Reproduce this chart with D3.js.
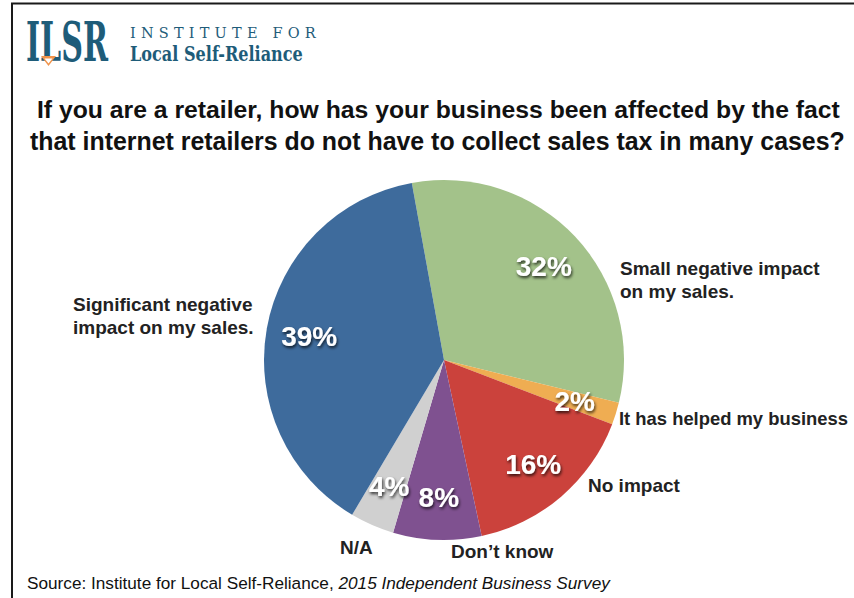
<!DOCTYPE html>
<html>
<head>
<meta charset="utf-8">
<script src="https://cdn.jsdelivr.net/npm/d3@7/dist/d3.min.js"></script>
<style>
  html, body { margin: 0; padding: 0; background: #fff; }
  svg { display: block; }
</style>
</head>
<body>
<svg id="chart" width="854" height="598"></svg>
<script>
// Survey responses (percent of retailers)
const categories = [
  "Small negative impact on my sales.",
  "It has helped my business",
  "No impact",
  "Don\u2019t know",
  "N/A",
  "Significant negative impact on my sales."
];
const values = [32, 2, 16, 8, 4, 39];
const colors = ["#a3c28a", "#efad52", "#cb423c", "#7f5190", "#d0d0d0", "#3e6b9c"];

const titleLines = [
  "If you are a retailer, how has your business been affected by the fact",
  "that internet retailers do not have to collect sales tax in many cases?"
];

const W = 854, H = 598;
const svg = d3.select("#chart");

// shrink a text's font size until it fits the given width
function fitWidth(sel, width) {
  const size = parseFloat(sel.attr("font-size"));
  const w = sel.node().getComputedTextLength();
  if (w > 0) sel.attr("font-size", (size * width / w).toFixed(2));
  return sel;
}

// narrow a text horizontally (keeping its height) so it spans the given width
function squeeze(parent, x, y, width, setup) {
  const grp = parent.append("g");
  const t = setup(grp.append("text"));
  const w = t.node().getComputedTextLength();
  const k = w > 0 ? width / w : 1;
  grp.attr("transform", `translate(${x},${y}) scale(${k.toFixed(4)},1)`);
  return t;
}

// drop shadow for the percentage labels
const defs = svg.append("defs");
const f = defs.append("filter").attr("id", "shadow")
  .attr("x", "-30%").attr("y", "-30%").attr("width", "160%").attr("height", "160%");
f.append("feDropShadow").attr("dx", 1).attr("dy", 2).attr("stdDeviation", 1.4)
  .attr("flood-color", "#000").attr("flood-opacity", 0.75);

// frame
svg.append("path")
  .attr("d", `M12,${H} L12,3.5 L${W},3.5`)
  .attr("fill", "none").attr("stroke", "#1a1a1a").attr("stroke-width", 2);

// logo
const teal = "#1e5c79";
const serif = "'DejaVu Serif', 'Liberation Serif', serif";
const logo = svg.append("g").attr("font-family", serif).attr("fill", teal);
squeeze(logo, 26, 61, 82, t => t.attr("font-size", 54).attr("font-weight", "bold").text("ILSR"));
logo.append("path").attr("d", "M41,56 L56,56 L48.5,66 Z").attr("fill", "#f0934a");
logo.append("path").attr("d", "M44.5,58.5 L52.5,58.5 L48.5,63.5 Z").attr("fill", "#fff");
logo.append("text").attr("x", 130).attr("y", 38).attr("font-size", 14.5)
  .attr("letter-spacing", 5.2).text("INSTITUTE FOR");
squeeze(logo, 130, 61, 173, t => t.attr("font-size", 19.5).attr("font-weight", "bold").text("Local Self-Reliance"));

// title
const title = svg.append("g").attr("font-family", "'Liberation Sans', Arial, sans-serif")
  .attr("font-weight", "bold").attr("fill", "#111");
fitWidth(title.append("text").attr("x", 37).attr("y", 118).attr("font-size", 24).text(titleLines[0]), 803);
fitWidth(title.append("text").attr("x", 30).attr("y", 150).attr("font-size", 24).text(titleLines[1]), 815);

// pie
const cx = 444, cy = 360, R = 180;
const pie = d3.pie().sort(null).value(d => d)
  .startAngle(-10.3 * Math.PI / 180).endAngle((360 - 10.3) * Math.PI / 180);
const arcs = pie(values);
const arc = d3.arc().innerRadius(0).outerRadius(R);
const labelArc = d3.arc().innerRadius(137).outerRadius(137);

const g = svg.append("g").attr("transform", `translate(${cx},${cy})`);
g.selectAll("path.slice").data(arcs).join("path")
  .attr("class", "slice")
  .attr("d", arc)
  .attr("fill", (d, i) => colors[i]);

g.selectAll("text.pct").data(arcs).join("text")
  .attr("class", "pct")
  .attr("transform", d => `translate(${labelArc.centroid(d)})`)
  .attr("text-anchor", "middle").attr("dy", "0.36em")
  .attr("font-family", "'Liberation Sans', Arial, sans-serif")
  .attr("font-weight", "bold").attr("font-size", 28)
  .attr("fill", "#fff").attr("filter", "url(#shadow)")
  .text(d => d.data + "%");

// category labels
const lab = svg.append("g").attr("font-family", "'Liberation Sans', Arial, sans-serif")
  .attr("font-weight", "bold").attr("font-size", 19).attr("fill", "#222");
function label(lines, x, y) {
  const t = lab.append("text").attr("x", x).attr("y", y);
  lines.forEach((s, i) => t.append("tspan").attr("x", x).attr("dy", i ? 23 : 0).text(s));
  return t;
}
label(["Small negative impact", "on my sales."], 620, 275);
label(["Significant negative", "impact on my sales."], 73, 311);
label([categories[1]], 619, 425).attr("font-size", 18.4);
label([categories[2]], 588, 492);
label([categories[4]], 340, 554);
label([categories[3]], 451, 558);

// source line
const src = svg.append("text").attr("x", 27).attr("y", 589)
  .attr("font-family", "'Liberation Sans', Arial, sans-serif").attr("font-size", 17.2).attr("fill", "#111");
src.append("tspan").text("Source: Institute for Local Self-Reliance, ");
src.append("tspan").attr("font-style", "italic").text("2015 Independent Business Survey");
</script>
</body>
</html>
